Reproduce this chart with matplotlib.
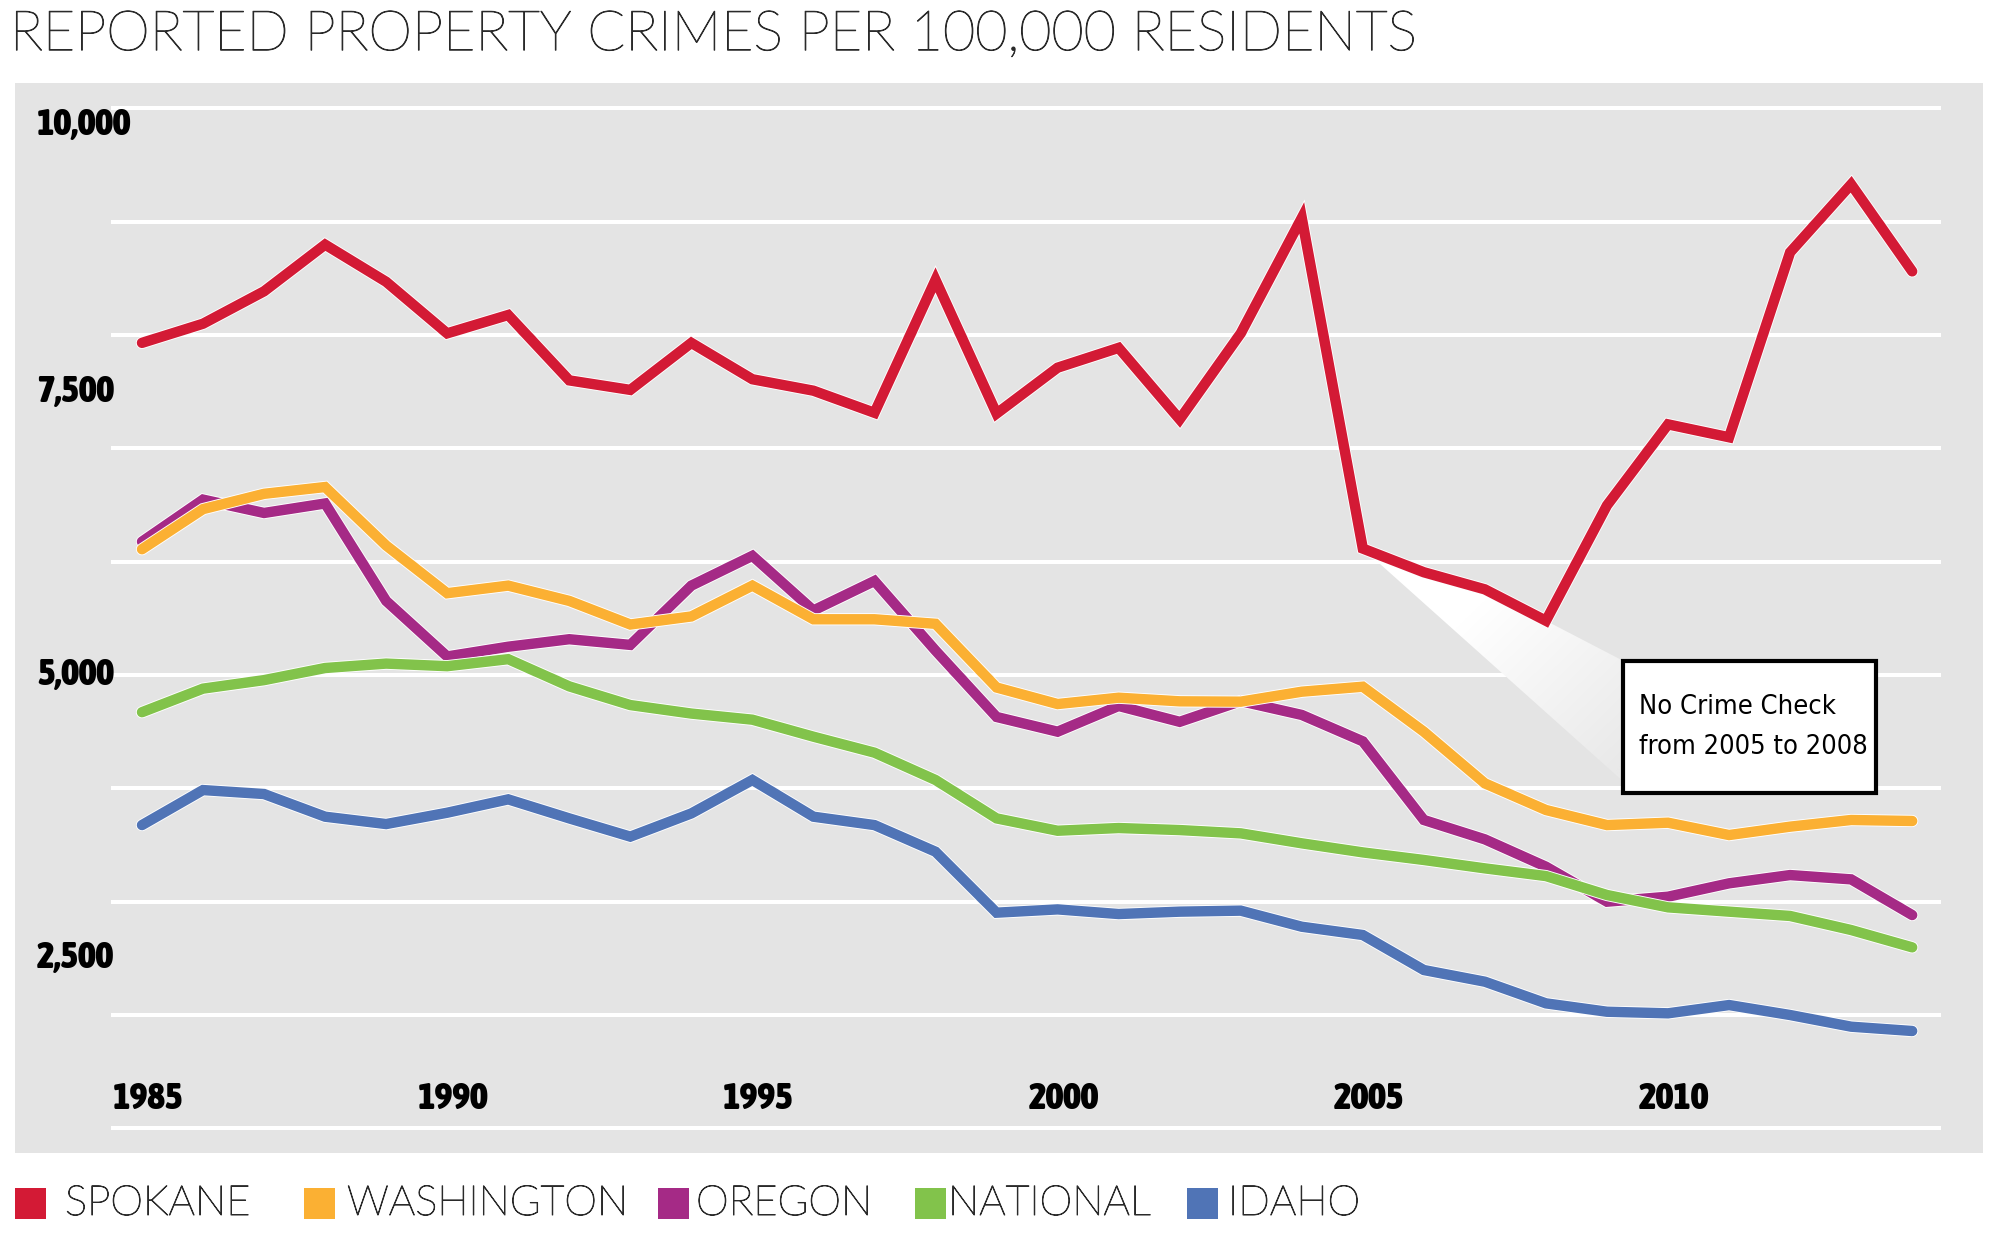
import numpy as np
import matplotlib
matplotlib.use("Agg")
import matplotlib.pyplot as plt
import matplotlib.patheffects as pe
from matplotlib import font_manager as fm
from matplotlib.patches import Polygon, Rectangle
from matplotlib.colors import LinearSegmentedColormap

# data (property crimes per 100,000 residents)
years = list(range(1985, 2015))
spokane = [7931, 8100, 8386, 8798, 8470, 8015, 8177, 7600, 7516, 7931,
           7610, 7509, 7314, 8487, 7307, 7712, 7887, 7256, 8015, 9034,
           6116, 5907, 5756, 5479, 6497, 7212, 7098, 8730, 9330, 8562]
washington = [6110, 6464, 6599, 6659, 6143, 5722, 5789, 5654, 5446, 5517,
              5789, 5492, 5492, 5452, 4890, 4744, 4800, 4768, 4765, 4853,
              4897, 4500, 4044, 3809, 3676, 3697, 3588, 3662, 3721, 3712]
oregon = [6177, 6548, 6430, 6514, 5654, 5164, 5250, 5316, 5266, 5789,
          6052, 5570, 5830, 5216, 4630, 4500, 4727, 4587, 4770, 4648,
          4415, 3721, 3550, 3309, 3000, 3044, 3162, 3235, 3197, 2882]
national = [4672, 4880, 4955, 5062, 5101, 5078, 5140, 4900, 4735, 4660,
            4606, 4456, 4315, 4074, 3735, 3626, 3650, 3632, 3603, 3515,
            3435, 3368, 3294, 3226, 3059, 2950, 2912, 2874, 2750, 2597]
idaho = [3676, 3985, 3950, 3750, 3685, 3785, 3903, 3735, 3574, 3779,
         4074, 3750, 3676, 3441, 2903, 2932, 2891, 2912, 2921, 2779,
         2706, 2397, 2294, 2103, 2029, 2015, 2088, 2000, 1897, 1859]

names = ["SPOKANE", "WASHINGTON", "OREGON", "NATIONAL", "IDAHO"]
series = [spokane, washington, oregon, national, idaho]
colors = ["#d31a35", "#fbb033", "#a52a86", "#82c34b", "#5074b6"]

ytick_vals = [10000, 7500, 5000, 2500]
ytick_labels = ["10,000", "7,500", "5,000", "2,500"]
xtick_vals = [1985, 1990, 1995, 2000, 2005, 2010]
note = "No Crime Check\nfrom 2005 to 2008"


# look for a narrow face among the installed fonts, else fall back
def wt(f):
    return f.weight if isinstance(f.weight, int) else fm.weight_dict.get(f.weight, 400)


stretch_rank = {"ultra-condensed": 0, "extra-condensed": 1, "condensed": 2,
                "semi-condensed": 3}


def narrow(f):
    return ("condensed" in str(f.stretch) or "Narrow" in f.name
            or "Condensed" in f.name or "Cond" in f.fname)


def pick_narrow(bold):
    c = [f for f in fm.fontManager.ttflist if narrow(f) and (wt(f) >= 700) == bold
         and "Mono" not in f.name and "Serif" not in f.name
         and "italic" not in str(f.style) and "oblique" not in str(f.style)]
    if not c:
        return None
    c.sort(key=lambda f: (stretch_rank.get(str(f.stretch), 2),
                          -wt(f) if bold else abs(wt(f) - 400)))
    return c[0].fname


bold_file = pick_narrow(True)
reg_file = pick_narrow(False)


def bold_font(size):
    if bold_file:
        return fm.FontProperties(fname=bold_file, size=size)
    return fm.FontProperties(family=["Roboto", "DejaVu Sans"], weight="bold", size=size)


def reg_font(size):
    if reg_file:
        return fm.FontProperties(fname=reg_file, size=size)
    return fm.FontProperties(family=["Roboto", "DejaVu Sans"], size=size)


thin = ["Lato", "DejaVu Sans"]
# light face, thickened a touch so it reads darker
thicken = [pe.withStroke(linewidth=0.7, foreground="#2a2a2a")]

fig = plt.figure(figsize=(20, 12.54), dpi=100)
ax = fig.add_axes([0.0075, 0.0805, 0.984, 0.8533])
ax.set_facecolor("#e4e4e4")
for s in ax.spines.values():
    s.set_visible(False)
ax.set_xticks([])
ax.set_yticks([])
ax.set_xlim(1982.92, 2015.16)
ax.set_ylim(782, 10224)

# white gridlines
ax.hlines(range(1000, 11000, 1000), 1984.5, 2014.47, color="white", lw=2.9, zorder=1)

# callout wedge from the 2005-2008 stretch to the note box
bx0, bx1, by0, by1 = 2009.27, 2013.4, 3959, 5124
i0 = years.index(2005)
wx = years[i0:i0 + 4] + [bx0, bx0]
wy = spokane[i0:i0 + 4] + [by1, by0 + 100]
wedge = Polygon(list(zip(wx, wy)), closed=True, fc="none", ec="none")
ax.add_patch(wedge)
gx, gy = np.meshgrid(np.linspace(0, 1, 200), np.linspace(0, 1, 200))
grad = np.clip((gx + gy) / 2 * 1.7 - 0.6, 0, 1)
cmap = LinearSegmentedColormap.from_list("w", ["#ffffff", "#e9e9e9"])
im = ax.imshow(grad, extent=[2005, bx0, by0, 6200], origin="upper", cmap=cmap,
               aspect="auto", zorder=1.5, interpolation="bilinear")
im.set_clip_path(wedge)

# lines (idaho underneath, spokane on top)
order = [4, 2, 3, 1, 0]
for k in order:
    ax.plot(years, series[k], color=colors[k], lw=7.5, solid_capstyle="round",
            solid_joinstyle="miter", zorder=3 + order.index(k) * 0.1,
            path_effects=[pe.Stroke(linewidth=8.8, foreground="white"), pe.Normal()])

# note box
ax.add_patch(Rectangle((bx0, by0), bx1 - bx0, by1 - by0, fc="white", ec="black",
                       lw=3, zorder=6))
ax.text(bx0 + 0.25, (by0 + by1) / 2, note, fontproperties=reg_font(19.5),
        va="center", ha="left", linespacing=1.7, zorder=7)

# axis labels drawn inside the panel
for v, lab in zip(ytick_vals, ytick_labels):
    yy = v - 150 if v == 10000 else v
    ax.text(1983.28, yy, lab, fontproperties=bold_font(27),
            ha="left", va="center", zorder=4)
for yr in xtick_vals:
    ax.text(yr + 0.1, 1259, str(yr), fontproperties=bold_font(27),
            ha="center", va="center", zorder=4)

# title
fig.text(0.005, 0.960, "REPORTED PROPERTY CRIMES PER 100,000 RESIDENTS",
         fontsize=40, family=thin, fontweight="light", color="#2a2a2a",
         ha="left", va="baseline", path_effects=thicken)

# legend along the bottom
sq_x = [15, 304, 658, 915, 1187]
txt_x = [65, 347, 696, 948, 1228]
for x0, tx, name, c in zip(sq_x, txt_x, names, colors):
    fig.patches.append(Rectangle((x0 / 2000, 1 - 1219 / 1254), 31 / 2000, 31 / 1254,
                                 transform=fig.transFigure, fc=c, ec="none"))
    fig.text(tx / 2000, 1 - 1204 / 1254, name, fontsize=30, family=thin,
             fontweight="light", color="#2a2a2a", ha="left", va="center",
             path_effects=thicken)

fig.savefig("out.png", dpi=100, facecolor="white")
